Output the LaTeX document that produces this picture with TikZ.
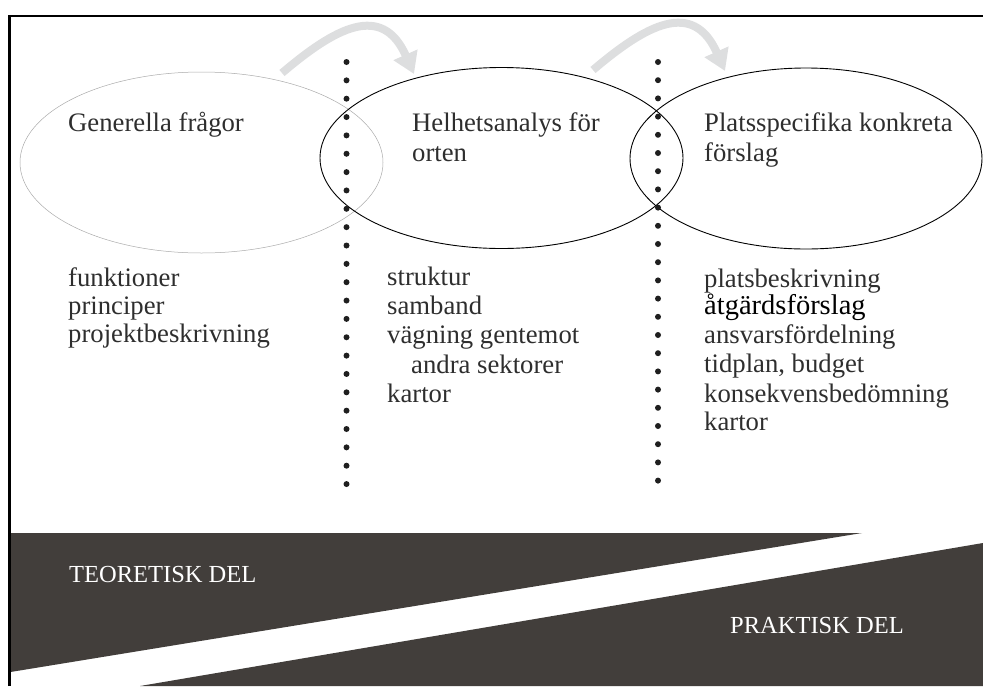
\documentclass[tikz,border=0pt]{standalone}
\usepackage{fontspec}
\setmainfont{Liberation Serif}
\usetikzlibrary{shapes.geometric,arrows.meta}
\definecolor{txt}{HTML}{2E2E2E}
\definecolor{band}{HTML}{423E3B}
\definecolor{arr}{HTML}{DDDEDF}
\definecolor{ovalgray}{HTML}{AAAAAA}
\begin{document}
\begin{tikzpicture}[x=1pt,y=-1pt,
  lbl/.style={anchor=base west,inner sep=0pt,text=txt,font=\fontsize{26.7}{28}\selectfont},
  bandlbl/.style={anchor=base west,inner sep=0pt,text=white,font=\fontsize{24.5}{26}\selectfont},
  oval/.style={ellipse,draw,inner sep=0pt,minimum height=181pt},
  dotmark/.style={fill=black!88},
  flow/.style={draw=arr,line width=8pt,-{Triangle[length=21pt,width=25pt]}}]
\useasboundingbox (0,0) rectangle (983,686);
% bands
\fill[band] (10.5,533) -- (862,533) -- (10.5,672) -- cycle;
\fill[band] (983,543) -- (140,686) -- (983,686) -- cycle;
% frame
\draw[line width=2.5pt] (9.5,686) -- (9.5,16) -- (983,16);
% arrows
\coordinate (a1s) at (282,73);
\coordinate (a1e) at (414,74);
\coordinate (a2s) at (593,70);
\coordinate (a2e) at (725,71);
\draw[flow] (a1s) .. controls (335,28) and (382,2) .. (a1e);
\draw[flow] (a2s) .. controls (646,25) and (693,-1) .. (a2e);
% ellipses
\node[oval,draw=ovalgray,line width=0.5pt,minimum width=363pt] (e1) at (201.5,162.5) {};
\node[oval,line width=0.9pt,minimum width=363pt] (e2) at (501.5,158) {};
\node[oval,line width=0.9pt,minimum width=352pt] (e3) at (806,158.5) {};
% dotted dividers
\foreach \i in {0,...,23} {
  \fill[dotmark] (346.5,62+18.35*\i) circle (3pt);
  \fill[dotmark] (658,62+18.2*\i) circle (3pt);
}
% titles
\node[lbl] (t1) at (68,131) {Generella frågor};
\node[lbl] (t2a) at (412,131) {Helhetsanalys för};
\node[lbl] (t2b) at (412,161) {orten};
\node[lbl] (t3a) at (704,131) {Platsspecifika konkreta};
\node[lbl] (t3b) at (704,161) {förslag};
% left list
\node[lbl] (l1) at (68,286) {funktioner};
\node[lbl] (l2) at (68,314) {principer};
\node[lbl] (l3) at (68,342) {projektbeskrivning};
% middle list
\node[lbl] (m1) at (387,285) {struktur};
\node[lbl] (m2) at (387,314) {samband};
\node[lbl] (m3) at (387,343) {vägning gentemot};
\node[lbl] (m4) at (411,373) {andra sektorer};
\node[lbl] (m5) at (387,402) {kartor};
% right list
\node[lbl] (r1) at (704,287) {platsbeskrivning};
\node[lbl,text=black,font=\fontsize{28.5}{30}\selectfont] (r2) at (704,314) {åtgärdsförslag};
\node[lbl] (r3) at (704,343) {ansvarsfördelning};
\node[lbl] (r4) at (704,372) {tidplan, budget};
\node[lbl] (r5) at (704,402) {konsekvensbedömning};
\node[lbl] (r6) at (704,430) {kartor};
% band labels
\node[bandlbl] (th) at (69,582) {TEORETISK DEL};
\node[bandlbl] (pr) at (730,633) {PRAKTISK DEL};
\end{tikzpicture}
\end{document}
